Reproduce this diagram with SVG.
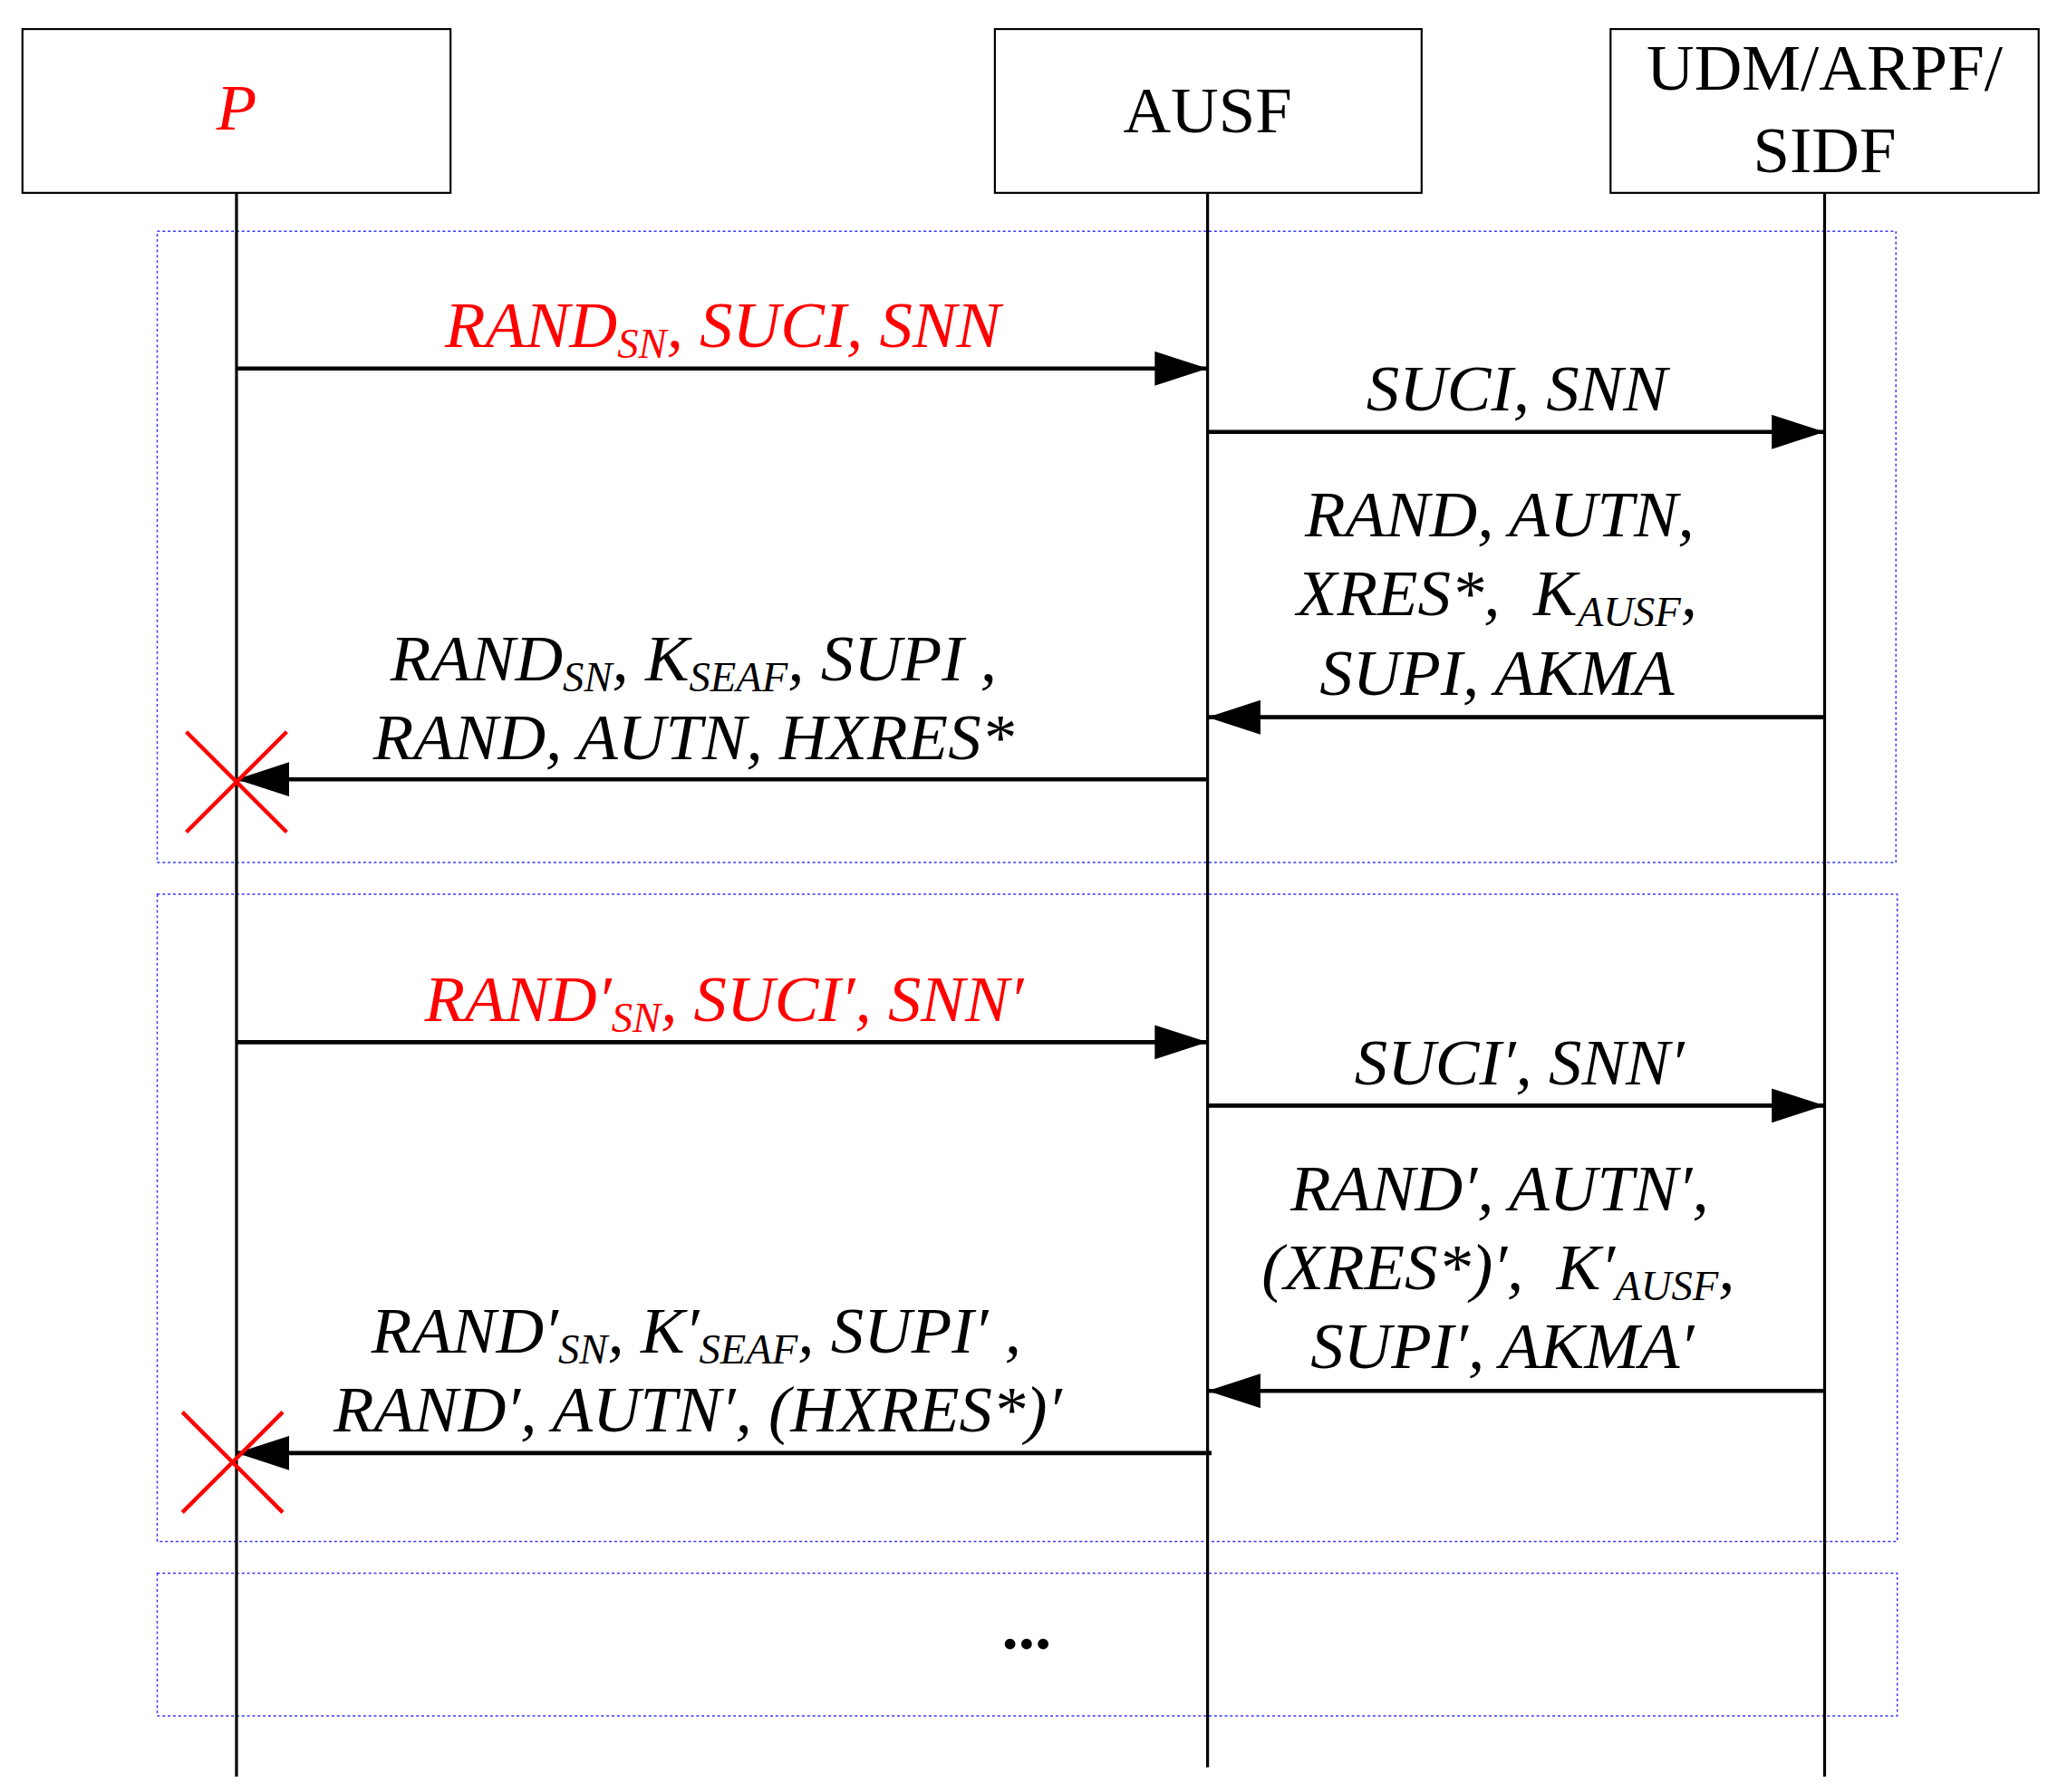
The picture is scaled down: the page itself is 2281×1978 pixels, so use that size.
<svg xmlns="http://www.w3.org/2000/svg" width="2281" height="1978" viewBox="0 0 2281 1978">
<defs>
<style>
.box{fill:#fff;stroke:#000;stroke-width:1.5}
.life{stroke:#000;stroke-width:2.2;fill:none}
.frame{fill:none;stroke:#3333ff;stroke-width:1;stroke-dasharray:2,2}
.msg{stroke:#000;stroke-width:3.2;fill:none}
.t{font-family:"Liberation Serif",serif;font-size:50px;font-style:italic;text-anchor:middle;white-space:pre}
.n{font-family:"Liberation Serif",serif;font-size:50px;text-anchor:middle}
.red{fill:#ff0000}
.s{font-size:32px}
.x{stroke:#ff0000;stroke-width:3}
</style>
<marker id="ah" markerUnits="userSpaceOnUse" markerWidth="42" markerHeight="28" refX="40" refY="13" orient="auto"><path d="M0,0L40,13L0,26Z" fill="#000"/></marker>
</defs>
<rect width="2281" height="1978" fill="#fff"/>
<g transform="scale(1.458)">
<g id="frames">
<rect class="frame" x="119" y="175" width="1316" height="478"/>
<rect class="frame" x="119" y="677" width="1317" height="490"/>
<rect class="frame" x="119" y="1191" width="1317" height="108"/>
</g>
<g id="node-P"><rect class="box" x="17" y="22" width="324" height="124"/><text class="t red" x="179" y="98">P</text><line class="life" x1="179" y1="146" x2="179" y2="1345"/></g>
<g id="node-AUSF"><rect class="box" x="753" y="22" width="323" height="124"/><text class="n" x="914" y="100">AUSF</text><line class="life" x1="914" y1="146" x2="914" y2="1338"/></g>
<g id="node-UDM"><rect class="box" x="1219" y="22" width="324" height="124"/><text class="n" x="1381" y="68">UDM/ARPF/</text><text class="n" x="1381" y="130">SIDF</text><line class="life" x1="1381" y1="146" x2="1381" y2="1345"/></g>
<g id="connectors">
<line class="msg" x1="179" y1="279" x2="914" y2="279" marker-end="url(#ah)"/>
<line class="msg" x1="914" y1="327" x2="1381" y2="327" marker-end="url(#ah)"/>
<line class="msg" x1="1381" y1="543" x2="914" y2="543" marker-end="url(#ah)"/>
<line class="msg" x1="914" y1="590" x2="179" y2="590" marker-end="url(#ah)"/>
<line class="msg" x1="179" y1="789" x2="914" y2="789" marker-end="url(#ah)"/>
<line class="msg" x1="914" y1="837" x2="1381" y2="837" marker-end="url(#ah)"/>
<line class="msg" x1="1381" y1="1053" x2="914" y2="1053" marker-end="url(#ah)"/>
<line class="msg" x1="917" y1="1100" x2="179" y2="1100" marker-end="url(#ah)"/>
</g>
<g id="crosses">
<line class="x" x1="141" y1="554" x2="217" y2="630"/><line class="x" x1="217" y1="554" x2="141" y2="630"/>
<line class="x" x1="138" y1="1069" x2="214" y2="1145"/><line class="x" x1="214" y1="1069" x2="138" y2="1145"/>
</g>
<g id="labels">
<text class="t red" x="547" y="263">RAND<tspan class="s" dy="8">SN</tspan><tspan dy="-8">, SUCI, SNN</tspan></text>
<text class="t" x="1148" y="311">SUCI, SNN</text>
<text class="t" x="1135" y="406">RAND, AUTN,</text>
<text class="t" x="1133" y="466">XRES*,  K<tspan class="s" dy="8">AUSF</tspan><tspan dy="-8">,</tspan></text>
<text class="t" x="1133" y="526">SUPI, AKMA</text>
<text class="t" x="525" y="515">RAND<tspan class="s" dy="8">SN</tspan><tspan dy="-8">, K</tspan><tspan class="s" dy="8">SEAF</tspan><tspan dy="-8">, SUPI ,</tspan></text>
<text class="t" x="525" y="575">RAND, AUTN, HXRES*</text>
<text class="t red" x="548" y="773">RAND′<tspan class="s" dy="8">SN</tspan><tspan dy="-8">, SUCI′, SNN′</tspan></text>
<text class="t" x="1150" y="821">SUCI′, SNN′</text>
<text class="t" x="1135" y="916">RAND′, AUTN′,</text>
<text class="t" x="1134" y="976">(XRES*)′,  K′<tspan class="s" dy="8">AUSF</tspan><tspan dy="-8">,</tspan></text>
<text class="t" x="1137" y="1036">SUPI′, AKMA′</text>
<text class="t" x="527" y="1024">RAND′<tspan class="s" dy="8">SN</tspan><tspan dy="-8">, K′</tspan><tspan class="s" dy="8">SEAF</tspan><tspan dy="-8">, SUPI′ ,</tspan></text>
<text class="t" x="528" y="1084">RAND′, AUTN′, (HXRES*)′</text>
<text class="n" x="777" y="1248" font-weight="bold">...</text>
</g>
</g>
</svg>
